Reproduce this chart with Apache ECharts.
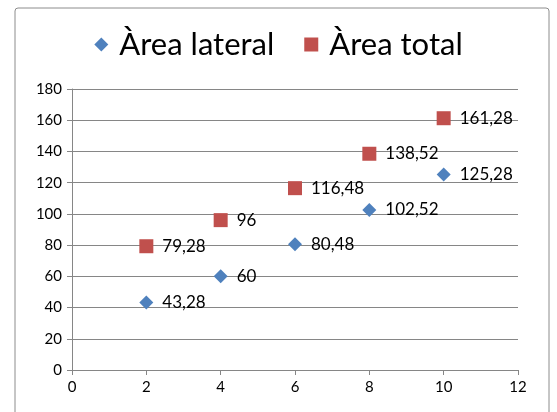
<!DOCTYPE html>
<html><head><meta charset="utf-8">
<script src="https://cdn.jsdelivr.net/npm/echarts@6/dist/echarts.min.js"></script>
<style>html,body{margin:0;padding:0;background:#fff}#c{width:557px;height:412px}</style>
</head><body><div id="c"></div>
<script>
const xValues = [2, 4, 6, 8, 10];
const lateral = [43.28, 60, 80.48, 102.52, 125.28];
const total = [79.28, 96, 116.48, 138.52, 161.28];
const seriesNames = ['Àrea lateral', 'Àrea total'];

const fmt = v => String(v).replace('.', ',');
const chart = echarts.init(document.getElementById('c'));
const labelStyle = {show: true, position: 'right', distance: 9, color: '#000', fontSize: 17, fontFamily: 'Lato', formatter: p => fmt(p.value[1])};
chart.setOption({
  animation: false,
  graphic: [{type: 'rect', shape: {x: 15, y: 8, width: 534, height: 420, r: 3}, style: {fill: 'none', stroke: '#8c8c8c', lineWidth: 1}}],
  legend: {
    top: 24, left: 'center', itemGap: 30, itemWidth: 14, itemHeight: 14,
    textStyle: {fontSize: 31, fontFamily: 'Lato', color: '#000', padding: [0, 0, 0, 6]},
    data: [{name: seriesNames[0], icon: 'diamond'}, {name: seriesNames[1], icon: 'rect'}]
  },
  grid: {left: 72, right: 39, top: 89, bottom: 42},
  xAxis: {
    type: 'value', min: 0, max: 12, interval: 2,
    axisLine: {lineStyle: {color: '#868686'}},
    axisTick: {show: true, length: 5, lineStyle: {color: '#868686'}},
    axisLabel: {color: '#000', fontSize: 15, fontFamily: 'Lato', margin: 10},
    splitLine: {show: false}
  },
  yAxis: {
    type: 'value', min: 0, max: 180, interval: 20,
    axisLine: {show: true, lineStyle: {color: '#868686'}},
    axisTick: {show: true, length: 5, lineStyle: {color: '#868686'}},
    axisLabel: {color: '#000', fontSize: 15, fontFamily: 'Lato', margin: 10},
    splitLine: {show: true, lineStyle: {color: '#868686', width: 1}}
  },
  series: [
    {name: seriesNames[0], type: 'scatter', symbol: 'diamond', symbolSize: 14,
     itemStyle: {color: '#4F81BD', opacity: 1}, label: labelStyle,
     data: xValues.map((x, i) => [x, lateral[i]])},
    {name: seriesNames[1], type: 'scatter', symbol: 'rect', symbolSize: 14,
     itemStyle: {color: '#C0504D', opacity: 1}, label: labelStyle,
     data: xValues.map((x, i) => [x, total[i]])}
  ]
});
</script></body></html>
